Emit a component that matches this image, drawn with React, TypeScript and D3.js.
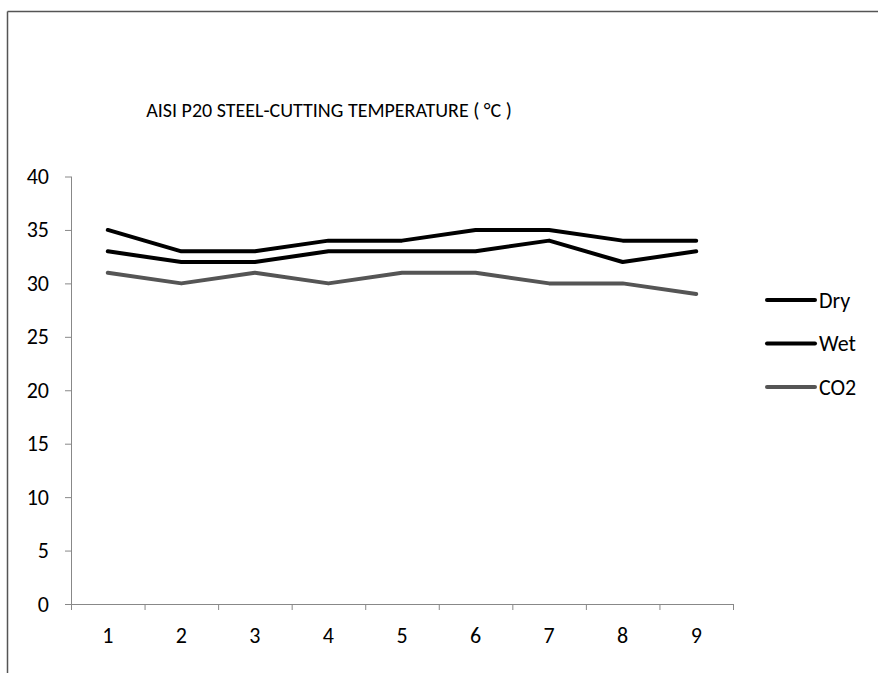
import React from "react";
import * as d3 from "d3";

const categories = ["1", "2", "3", "4", "5", "6", "7", "8", "9"];
const dry = [35, 33, 33, 34, 34, 35, 35, 34, 34];
const wet = [33, 32, 32, 33, 33, 33, 34, 32, 33];
const co2 = [31, 30, 31, 30, 31, 31, 30, 30, 29];
const yTicks = [0, 5, 10, 15, 20, 25, 30, 35, 40];
const seriesNames = ["Dry", "Wet", "CO2"];
const seriesColors = ["#000000", "#000000", "#555555"];

export default function App() {
  const W = 878, H = 673;
  const left = 71, right = 733, top = 176.5, bottom = 604;
  const x = d3.scaleBand().domain(categories).range([left, right]);
  const y = d3.scaleLinear().domain([0, 40]).range([bottom, top]);
  const series = [dry, wet, co2];
  const line = d3
    .line<number>()
    .x((_, i) => (x(categories[i]) as number) + x.bandwidth() / 2)
    .y((d) => y(d));
  const font = "Carlito, Calibri, Lato, sans-serif";
  const tickEdges = [...categories.map((c) => x(c) as number), right];
  return (
    <svg
      width={W}
      height={H}
      style={{ position: "fixed", left: 0, top: 0, display: "block" }}
      fontFamily={font}
    >
      <rect x={0} y={0} width={W} height={H} fill="#fff" />
      <line x1={7.5} x2={W} y1={11.5} y2={11.5} stroke="#555" strokeWidth={1.5} />
      <line x1={7.5} x2={7.5} y1={11.5} y2={H} stroke="#555" strokeWidth={1.5} />
      <text x={329} y={117} textAnchor="middle" fontSize={20} fill="#000">
        AISI P20 STEEL-CUTTING TEMPERATURE ( °C )
      </text>
      {/* y axis */}
      <line x1={left + 0.5} x2={left + 0.5} y1={top} y2={bottom} stroke="#888" />
      {yTicks.map((t) => (
        <g key={t}>
          <line x1={left - 6} x2={left} y1={y(t) + 0.5} y2={y(t) + 0.5} stroke="#888" />
          <text x={49} y={y(t) + 7.5} textAnchor="end" fontSize={22} fill="#000">
            {t}
          </text>
        </g>
      ))}
      {/* x axis */}
      <line x1={left} x2={right} y1={bottom + 0.5} y2={bottom + 0.5} stroke="#888" />
      {tickEdges.map((e, i) => (
        <line key={i} x1={e + 0.5} x2={e + 0.5} y1={bottom} y2={bottom + 6} stroke="#888" />
      ))}
      {categories.map((c) => (
        <text
          key={c}
          x={(x(c) as number) + x.bandwidth() / 2}
          y={bottom + 39}
          textAnchor="middle"
          fontSize={22}
          fill="#000"
        >
          {c}
        </text>
      ))}
      {series.map((s, i) => (
        <path
          key={i}
          d={line(s) || ""}
          fill="none"
          stroke={seriesColors[i]}
          strokeWidth={4}
          strokeLinejoin="round"
          strokeLinecap="round"
        />
      ))}
      {seriesNames.map((n, i) => {
        const ly = 300 + i * 43.5;
        return (
          <g key={n}>
            <line x1={767} x2={815} y1={ly} y2={ly} stroke={seriesColors[i]} strokeWidth={4} strokeLinecap="round" />
            <text x={819} y={ly + 7.5} fontSize={22} fill="#000">
              {n}
            </text>
          </g>
        );
      })}
    </svg>
  );
}
